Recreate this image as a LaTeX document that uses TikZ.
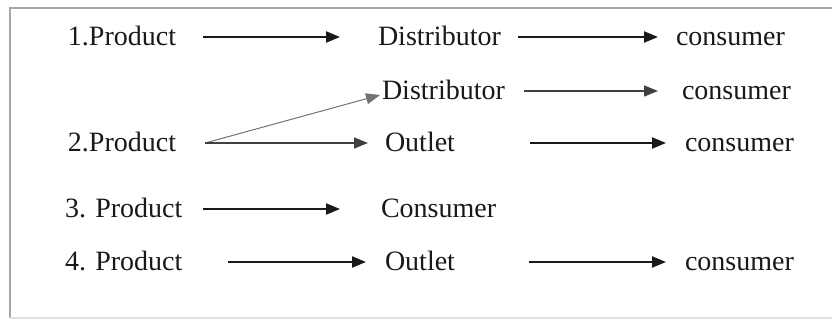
\documentclass[tikz,border=0pt]{standalone}
\usepackage{fontspec}
\setmainfont{Liberation Serif}
\usetikzlibrary{arrows.meta,calc}
\begin{document}
\begin{tikzpicture}[x=0.5pt,y=-0.5pt,
  lbl/.style={anchor=west,inner sep=0pt,outer sep=0pt,text height=9pt,text depth=0pt,
    font=\fontsize{14pt}{17pt}\selectfont,text=black!90},
  arr/.style={line width=1.1pt,draw=black!90,-{Triangle[length=7pt,width=5.5pt]}},
  thin arr/.style={line width=0.7pt,draw=black!75,-{Triangle[length=7pt,width=5.5pt]}},
  frame/.style={draw=black!35,line width=0.7pt}]
\useasboundingbox (0,0) rectangle (832,320);
% frame
\draw[frame] (10,318) -- (10,8) -- (832,8);
\draw[draw=black!12,line width=0.6pt] (10,318) -- (832,318);
% row 1
\node[lbl] (p1) at (68,37) {1.Product};
\node[lbl] (d1) at (378,37) {Distributor};
\node[lbl] (c1) at (676,37) {consumer};
% row 2
\node[lbl] (d2) at (382,91) {Distributor};
\node[lbl] (c2) at (682,91) {consumer};
\node[lbl] (p2) at (68,143) {2.Product};
\node[lbl] (o1) at (385,143) {Outlet};
\node[lbl] (c3) at (685,143) {consumer};
% row 3
\node[lbl] (p3) at (65,209) {3. Product};
\node[lbl] (k3) at (381,209) {Consumer};
% row 4
\node[lbl] (p4) at (65,262) {4. Product};
\node[lbl] (o2) at (385,262) {Outlet};
\node[lbl] (c5) at (685,262) {consumer};
% arrows
\draw[arr,shorten <=13.5pt,shorten >=19pt] (p1) -- (d1);
\draw[arr,shorten <=8.5pt,shorten >=9pt] (d1) -- (c1);
\draw[thin arr,shorten <=9.5pt,shorten >=12pt] (d2) -- (c2);
\draw[line width=0.5pt,draw=black!55,-{Triangle[length=7pt,width=5.5pt]}]
  ($(p2.east)+(14.5pt,0)$) -- ($(d2.west)+(-1pt,-2pt)$);
\draw[line width=0.8pt,draw=black!75,-{Triangle[length=7pt,width=5.5pt]},shorten <=14.5pt,shorten >=8.5pt] (p2) -- (o1);
\draw[arr,shorten <=37.5pt,shorten >=9.5pt] (o1) -- (c3);
\draw[arr,shorten <=10.5pt,shorten >=20.5pt] (p3) -- (k3);
\draw[arr,shorten <=23pt,shorten >=9.5pt] (p4) -- (o2);
\draw[arr,shorten <=37pt,shorten >=9.5pt] (o2) -- (c5);
\end{tikzpicture}
\end{document}
